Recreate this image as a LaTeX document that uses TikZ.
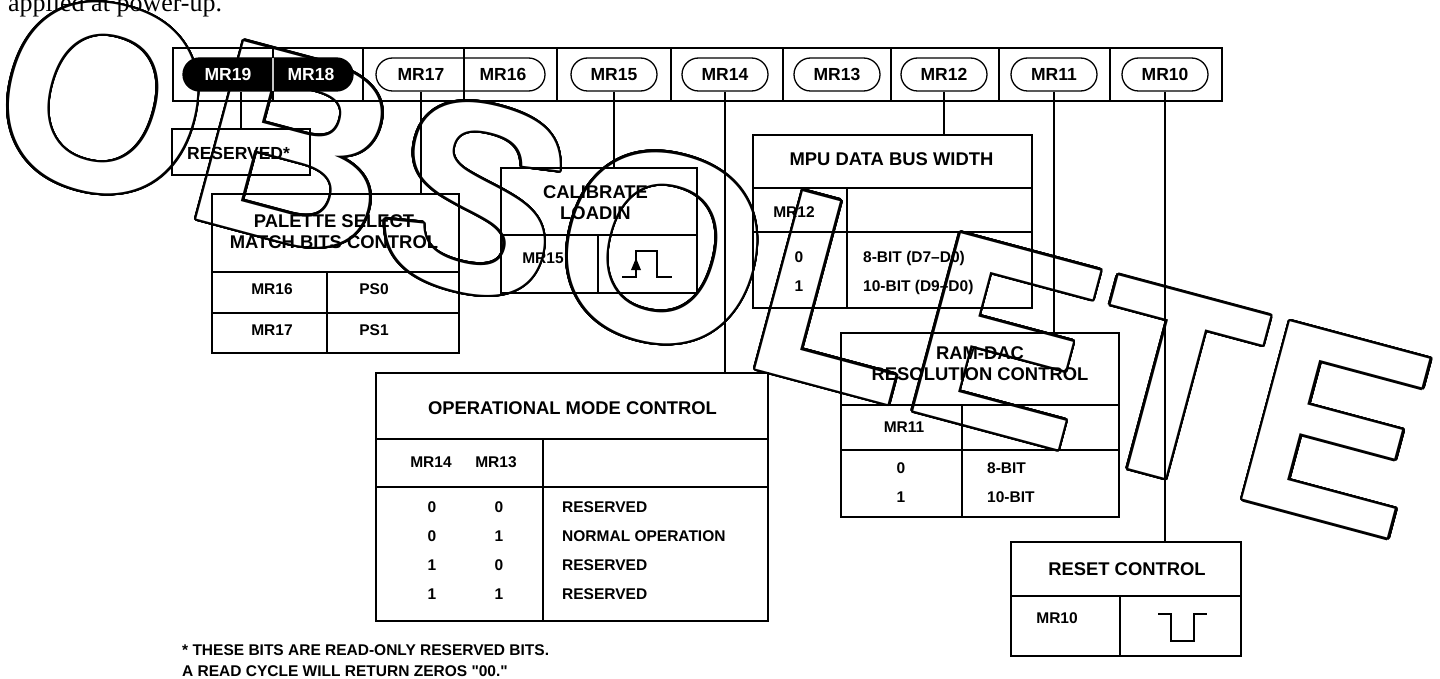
\documentclass[tikz,border=0pt]{standalone}
\usepackage{fontspec}
\setmainfont{Liberation Sans}[Ligatures=TeXOff]
\newfontfamily\bodyserif{Liberation Serif}
\usepackage{contour}
\contourlength{2.4pt}
\contournumber{48}
\usetikzlibrary{shapes.misc}

\begin{document}
\begin{tikzpicture}[x=1pt,y=-1pt,
    box/.style={draw,line width=2.6pt,inner sep=0pt},
    rule/.style={line width=2.6pt},
    pill/.style={draw,rounded rectangle,line width=1.3pt,minimum height=33pt,inner sep=0pt},
    reg/.style={inner sep=0pt,font={\bfseries\fontsize{17.5}{20}\selectfont}},
    head/.style={align=center,inner sep=0pt,font={\bfseries\fontsize{18.4}{21}\selectfont}},
    cell/.style={inner sep=0pt,font={\bfseries\fontsize{15.5}{18}\selectfont}},
    wire/.style={line width=1.2pt},
    pulse/.style={line width=1.8pt},
    wmark/.style={inner sep=0pt,text=white,font={\bfseries\fontsize{267}{267}\selectfont}}]
    \useasboundingbox (0,0) rectangle (1440,679);
    %scritta obsoleto (sotto al resto)
    \node[wmark,rotate=-15] (obs) at (712,263) {\contour{black}{OBSOLETE}};
    %testo iniziale
    \node[anchor=base west,inner sep=0pt,font={\bodyserif\fontsize{26}{30}\selectfont}] (intro) at (8,12) {applied at power-up.};
    %registro
    \node[draw,line width=2.2pt,minimum width=1049pt,minimum height=53pt,inner sep=0pt] (frame) at (697.5,74.5) {};
    \foreach \x in {273,363,557,671,783,891,999,1110}
        \draw[line width=2pt] (\x,48) -- (\x,101);
    %bit MR19 MR18 (riservati)
    \node[pill,fill=black,minimum width=170pt] (blk) at (268,74.5) {};
    \draw[line width=1.2pt,gray!45] (273,58) -- (273,91);
    \node[reg,text=white] (t19) at (228,74.5) {MR19};
    \node[reg,text=white] (t18) at (311,74.5) {MR18};
    %bit MR17 MR16
    \node[pill,minimum width=169pt] (wht) at (460.5,74.5) {};
    \draw[line width=1.6pt] (464,48) -- (464,101);
    \node[reg] (t17) at (421,74.5) {MR17};
    \node[reg] (t16) at (503,74.5) {MR16};
    %bit singoli
    \foreach \n/\x in {15/614,14/725,13/837,12/944,11/1054,10/1165}
        \node[pill,reg,minimum width=86pt] (p\n) at (\x,74.5) {MR\n};

    %riservato
    \node[box,minimum width=138pt,minimum height=46pt] (res) at (241,152) {};
    \node[reg] (resl) at (238.5,153) {RESERVED*};
    %palette select
    \node[box,minimum width=247pt,minimum height=159pt] (pal) at (335.5,273.5) {};
    \draw[rule] (212,272) -- (459,272);
    \draw[rule] (212,313) -- (459,313);
    \draw[rule] (327,272) -- (327,353);
    \node[head] (palh) at (334,232) {PALETTE SELECT\\MATCH BITS CONTROL};
    \node[cell] (pal16) at (272,289) {MR16};
    \node[cell] (pal0) at (374,289) {PS0};
    \node[cell] (pal17) at (272,330) {MR17};
    \node[cell] (pal1) at (374,330) {PS1};
    %calibrate
    \node[box,minimum width=196pt,minimum height=125pt] (cal) at (599,230.5) {};
    \draw[rule] (501,235) -- (697,235);
    \draw[rule] (598,235) -- (598,293);
    \node[head] (calh) at (595.5,202.5) {CALIBRATE\\LOADIN};
    \node[cell] (cal15) at (543,258) {MR15};
    \draw[pulse] (622,277) -- (636,277) -- (636,251) -- (657,251) -- (657,277) -- (672,277);
    \fill (636,258) -- (631,270) -- (641,270) -- cycle;
    %larghezza bus
    \node[box,minimum width=279pt,minimum height=173pt] (mpu) at (892.5,221.5) {};
    \draw[rule] (753,188) -- (1032,188);
    \draw[rule] (753,232) -- (1032,232);
    \draw[rule] (847,188) -- (847,308);
    \node[head] (mpuh) at (891.5,159) {MPU DATA BUS WIDTH};
    \node[cell] (mpu12) at (794,212) {MR12};
    \node[cell] (mpu0) at (799,257) {0};
    \node[cell] (mpu1) at (799,286) {1};
    \node[cell,anchor=base west] (mpu8) at (863,262.5) {8-BIT (D7–D0)};
    \node[cell,anchor=base west] (mpu10) at (863,291.5) {10-BIT (D9–D0)};
    %risoluzione dac
    \node[box,minimum width=278pt,minimum height=184pt] (ram) at (980,425) {};
    \draw[rule] (841,405) -- (1119,405);
    \draw[rule] (841,450) -- (1119,450);
    \draw[rule] (962,405) -- (962,517);
    \node[head] (ramh) at (980,364) {RAM-DAC\\RESOLUTION CONTROL};
    \node[cell] (ram11) at (904,427) {MR11};
    \node[cell] (ram0) at (901,468) {0};
    \node[cell] (ram1) at (901,497) {1};
    \node[cell,anchor=west] (ram8) at (987,468) {8-BIT};
    \node[cell,anchor=west] (ram10) at (987,497) {10-BIT};
    %modo operativo
    \node[box,minimum width=392pt,minimum height=248pt] (op) at (572,497) {};
    \draw[rule] (376,439) -- (768,439);
    \draw[rule] (376,487) -- (768,487);
    \draw[rule] (543,439) -- (543,621);
    \node[head] (oph) at (572.5,408) {OPERATIONAL MODE CONTROL};
    \node[cell] (op14) at (431,462) {MR14};
    \node[cell] (op13) at (496,462) {MR13};
    \foreach \a/\b/\t [count=\i] in {0/0/RESERVED,0/1/NORMAL OPERATION,1/0/RESERVED,1/1/RESERVED}{
        \node[cell] (opa\i) at (432,478+29*\i) {\a};
        \node[cell] (opb\i) at (499,478+29*\i) {\b};
        \node[cell,anchor=west] (opt\i) at (562,478+29*\i) {\t};
    }
    %reset
    \node[box,minimum width=230pt,minimum height=114pt] (rst) at (1126,599) {};
    \draw[rule] (1011,596) -- (1241,596);
    \draw[rule] (1120,596) -- (1120,656);
    \node[head] (rsth) at (1127,569) {RESET CONTROL};
    \node[cell] (rst10) at (1057,618) {MR10};
    \draw[pulse] (1158,614) -- (1171,614) -- (1171,641) -- (1194,641) -- (1194,614) -- (1207,614);

    %collegamenti
    \draw[wire] (res.north) -- (res.north |- blk.south);
    \draw[wire] (t17 |- wht.south) -- (t17 |- pal.north);
    \draw[wire] (p15.south) -- (p15.south |- cal.north);
    \draw[wire] (p14.south) -- (p14.south |- op.north);
    \draw[wire] (p12.south) -- (p12.south |- mpu.north);
    \draw[wire] (p11.south) -- (p11.south |- ram.north);
    \draw[wire] (p10.south) -- (p10.south |- rst.north);

    %nota
    \node[cell,anchor=west] (note1) at (182,650) {* THESE BITS ARE READ-ONLY RESERVED BITS.};
    \node[cell,anchor=west] (note2) at (182,671) {A READ CYCLE WILL RETURN ZEROS "00."};
\end{tikzpicture}
\end{document}
